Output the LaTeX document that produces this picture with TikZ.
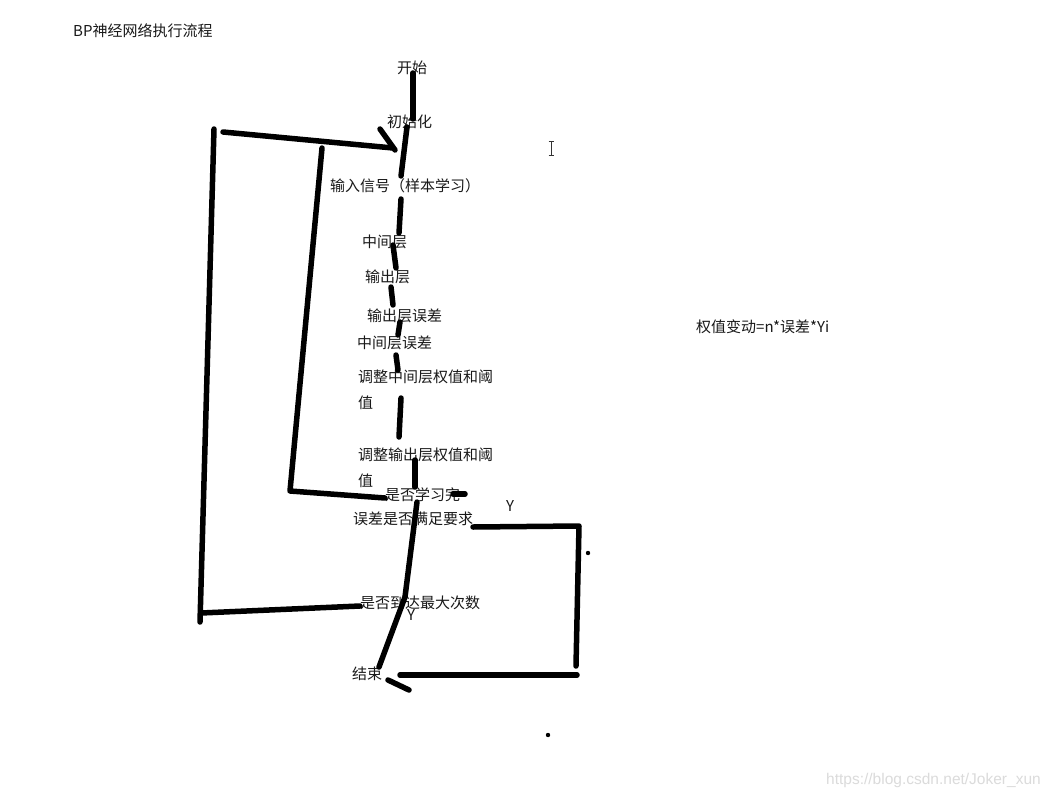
\documentclass[tikz,border=0pt]{standalone}
\usepackage{fontspec}
\newfontfamily\cjk{Noto Sans CJK SC}
\newfontfamily\wmfont{Liberation Sans}
\tikzset{
  pen/.style={draw=black, line width=5.5pt, line cap=round, line join=round},
  label/.style={font=\cjk\fontsize{15}{17}\selectfont, text=black!90, anchor=west, inner sep=0pt},
}
\begin{document}
\begin{tikzpicture}[x=1pt, y=-1pt]
\useasboundingbox[fill=white] (0,0) rectangle (1052,800);
% texts
\node[label] (title) at(73, 31) {BP神经网络执行流程};
\node[label] (start) at(397, 68) {开始};
\node[label] (init) at(387, 122) {初始化};
\node[label] (input) at(330, 186) {输入信号（样本学习）};
\node[label] (hidden) at(362, 242) {中间层};
\node[label] (output) at(365, 277) {输出层};
\node[label] (outerr) at(367, 316) {输出层误差};
\node[label] (hiderr) at(357, 343) {中间层误差};
\node[label] (adjhid) at(358, 377) {调整中间层权值和阈};
\node[label] (adjhidb) at(358, 403) {值};
\node[label] (adjout) at(358, 455) {调整输出层权值和阈};
\node[label] (adjoutb) at(358, 481) {值};
\node[label] (learned) at(385, 495) {是否学习完};
\node[label] (errok) at(353, 519) {误差是否满足要求};
\node[label] (yA) at(506, 506) {Y};
\node[label] (maxiter) at(360, 603) {是否到达最大次数};
\node[label] (yB) at(407, 615) {Y};
\node[label] (stop) at(352, 674) {结束};
\node[label] (formula) at(696, 327) {权值变动=n*误差*Yi};
\node[anchor=west, inner sep=0pt, text=black!14, font=\wmfont\fontsize{15.5}{17}\selectfont] (watermark) at(826, 780) {https://blog.csdn.net/Joker\_xun};
% stroke ends
\coordinate (a1) at(413, 73);  \coordinate (a2) at(413, 119);
\coordinate (b1) at(407, 127); \coordinate (b2) at(401, 176);
\coordinate (c1) at(401, 199); \coordinate (c2) at(399, 233);
\coordinate (d1) at(393, 245); \coordinate (d2) at(396, 268);
\coordinate (e1) at(391, 287); \coordinate (e2) at(393, 305);
\coordinate (f1) at(400, 322); \coordinate (f2) at(398, 335);
\coordinate (g1) at(396, 355); \coordinate (g2) at(398, 370);
\coordinate (h1) at(401, 398); \coordinate (h2) at(399, 437);
\coordinate (i1) at(415, 460); \coordinate (i2) at(415, 487);
\coordinate (j1) at(385, 498); \coordinate (j2) at(290, 491); \coordinate (j3) at(322, 148);
\coordinate (k1) at(453, 494); \coordinate (k2) at(465, 494);
\coordinate (m1) at(417, 502); \coordinate (m2) at(405, 597); \coordinate (m3) at(379, 667);
\coordinate (n1) at(473, 527); \coordinate (n2) at(579, 526); \coordinate (n3) at(576, 666);
\coordinate (n4) at(577, 675); \coordinate (n5) at(400, 675);
\coordinate (p1) at(388, 680); \coordinate (p2) at(409, 690);
\coordinate (q1) at(360, 606); \coordinate (q2) at(201, 613);
\coordinate (q3) at(200, 622); \coordinate (q4) at(214, 129);
\coordinate (r1) at(223, 132); \coordinate (r2) at(393, 148);
\coordinate (r3) at(380, 129); \coordinate (r4) at(395, 150);
% main line
\draw[pen] (a1) -- (a2);
\draw[pen] (b1) -- (b2);
\draw[pen] (c1) -- (c2);
\draw[pen] (d1) -- (d2);
\draw[pen] (e1) -- (e2);
\draw[pen] (f1) -- (f2);
\draw[pen] (g1) -- (g2);
\draw[pen] (h1) -- (h2);
\draw[pen] (i1) -- (i2);
\draw[pen] (m1) -- (m2) -- (m3);
% loops
\draw[pen] (j1) -- (j2) -- (j3);
\draw[pen] (k1) -- (k2);
\draw[pen] (n1) -- (n2) -- (n3);
\draw[pen] (n4) -- (n5);
\draw[pen] (p1) -- (p2);
\draw[pen] (q1) -- (q2);
\draw[pen] (q3) -- (q4);
\draw[pen] (r1) -- (r2);
\draw[pen] (r3) -- (r4);
% dots and cursor
\fill[black] (588, 553) circle (2.2);
\fill[black] (548, 735) circle (2.2);
\draw[black!80, line width=0.8pt] (551, 141) -- (551, 155)
      (548.5, 141) -- (553.5, 141) (548.5, 155) -- (553.5, 155);
\end{tikzpicture}
\end{document}
